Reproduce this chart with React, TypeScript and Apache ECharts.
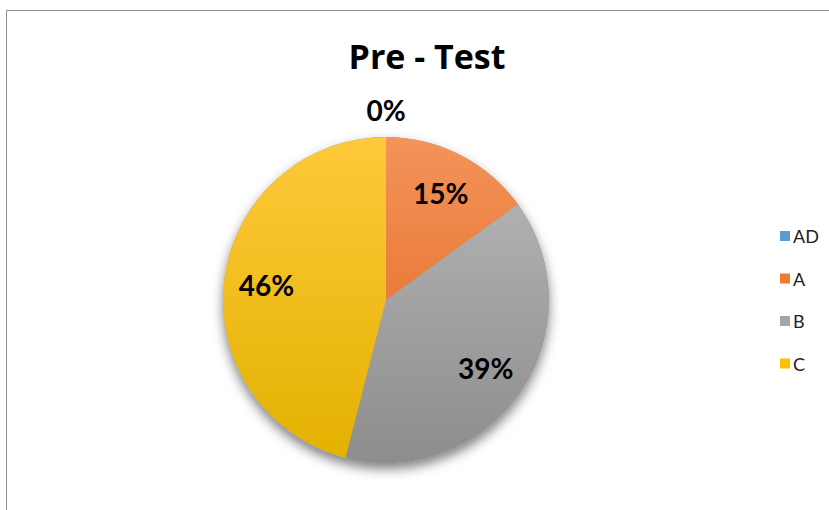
import React, { useEffect, useRef } from "react";
import * as echarts from "echarts";

const categories = ["AD", "A", "B", "C"];
const values = [0, 15, 39, 46];
const topColors = ["#6FA8DC", "#F4935A", "#B9B9B9", "#FFC93A"];
const bottomColors = ["#4A89C8", "#DD6418", "#8D8D8D", "#E3B100"];
const legendColors = ["#5B9BD5", "#ED7D31", "#A5A5A5", "#FFC000"];
const titleText = "Pre - Test";

const CX = 386;
const CY = 300;
const R = 163;
const FONT = "Lato, 'Open Sans', sans-serif";
const TITLE_FONT = "'Open Sans', Lato, sans-serif";

export default function App() {
  const ref = useRef<HTMLDivElement>(null);
  useEffect(() => {
    document.body.style.margin = "0";
    const chart = echarts.init(ref.current!, null, { renderer: "svg" });
    const grad = (i: number) =>
      new echarts.graphic.LinearGradient(
        0, CY - R, 0, CY + R,
        [
          { offset: 0, color: topColors[i] },
          { offset: 1, color: bottomColors[i] },
        ],
        true
      );
    const transparent = { color: "rgba(0,0,0,0)", borderWidth: 0 };
    const labelStyle = {
      show: true,
      position: "inside",
      formatter: "{c}%",
      fontFamily: FONT,
      fontWeight: "bold",
      fontSize: 28,
      color: "#000",
    };
    chart.setOption({
      animation: false,
      title: {
        text: titleText,
        left: 422,
        top: 34,
        textAlign: "center",
        textStyle: { fontFamily: TITLE_FONT, fontWeight: "bold", fontSize: 34, color: "#000" },
      },
      graphic: [
        {
          type: "rect",
          silent: true,
          shape: { x: 6.5, y: 10.5, width: 900, height: 600 },
          style: { fill: "none", stroke: "#8f8f8f", lineWidth: 1 },
        },
      ],
      legend: {
        orient: "vertical",
        left: 775,
        top: 222,
        itemWidth: 10,
        itemHeight: 10,
        itemGap: 24.5,
        icon: "rect",
        textStyle: { fontFamily: FONT, fontSize: 18, color: "#222", padding: [0, 0, 0, -2] },
        data: categories.map((c, i) => ({ name: c, itemStyle: { color: legendColors[i] } })),
      },
      series: [
        {
          type: "pie",
          silent: true,
          center: [CX, CY],
          radius: [0, R],
          label: { show: false },
          labelLine: { show: false },
          itemStyle: {
            color: "#999",
            shadowBlur: 12,
            shadowOffsetY: 6,
            shadowColor: "rgba(0,0,0,0.5)",
          },
          data: [{ name: "", value: values.reduce((a, b) => a + b, 0) }],
        },
        {
          type: "pie",
          silent: true,
          center: [CX, CY],
          radius: [0, R],
          startAngle: 90,
          clockwise: true,
          label: { show: false },
          labelLine: { show: false },
          data: categories.map((c, i) => ({
            name: c,
            value: values[i],
            itemStyle: { color: grad(i), borderWidth: 0 },
          })),
        },
        {
          type: "pie",
          silent: true,
          center: [CX, CY],
          radius: [72, R],
          startAngle: 90,
          itemStyle: transparent,
          labelLine: { show: false },
          label: labelStyle,
          data: categories.map((c, i) => ({
            name: c,
            value: values[i],
            label: { show: values[i] > 0 },
          })),
        },
        {
          type: "pie",
          silent: true,
          center: [CX, CY],
          radius: [R, 211],
          startAngle: 90,
          itemStyle: transparent,
          labelLine: { show: false },
          label: labelStyle,
          data: categories.map((c, i) => ({
            name: c,
            value: values[i],
            label: { show: values[i] === 0 },
          })),
        },
      ],
    });
    return () => chart.dispose();
  }, []);
  return <div ref={ref} style={{ position: "absolute", left: 0, top: 0, width: 829, height: 510 }} />;
}
